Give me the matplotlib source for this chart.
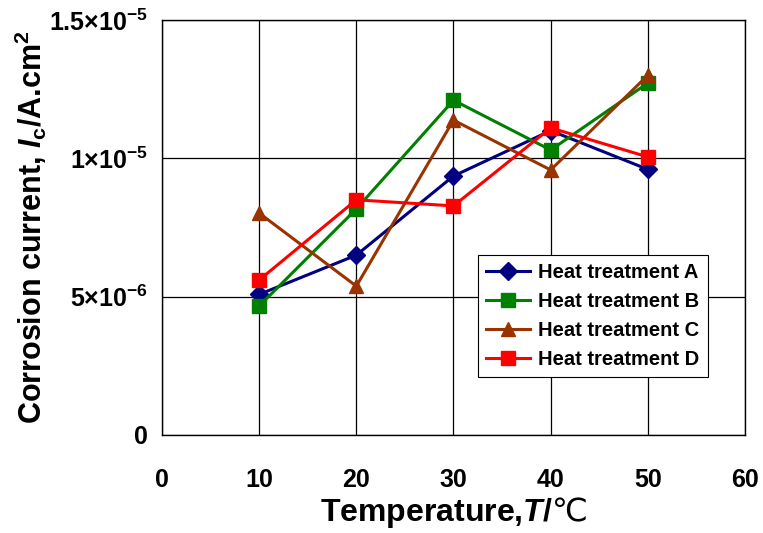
import matplotlib
matplotlib.use("Agg")
import matplotlib.pyplot as plt
from matplotlib.ticker import FixedLocator, FixedFormatter

plt.rcParams['font.family'] = ['Liberation Sans', 'DejaVu Sans']
plt.rcParams['font.weight'] = 'bold'
plt.rcParams['mathtext.fontset'] = 'custom'
plt.rcParams['mathtext.rm'] = 'Liberation Sans:bold'
plt.rcParams['mathtext.bf'] = 'Liberation Sans:bold'
plt.rcParams['mathtext.it'] = 'Liberation Sans:bold:italic'
plt.rcParams['mathtext.sf'] = 'DejaVu Sans:weight=normal'

temperature = [10, 20, 30, 40, 50]
heat_a = [5.08e-6, 6.5e-6, 9.36e-6, 11.0e-6, 9.6e-6]
heat_b = [4.66e-6, 8.17e-6, 12.1e-6, 10.3e-6, 12.72e-6]
heat_c = [8.02e-6, 5.38e-6, 11.38e-6, 9.58e-6, 13.0e-6]
heat_d = [5.6e-6, 8.5e-6, 8.28e-6, 11.1e-6, 10.05e-6]
series_labels = ["Heat treatment A", "Heat treatment B", "Heat treatment C", "Heat treatment D"]

x_ticks = [0, 10, 20, 30, 40, 50, 60]
y_ticks = [0, 5e-6, 1e-5, 1.5e-5]
y_tick_labels = ["0", r"$\mathrm{5{\times}10^{-6}}$", r"$\mathrm{1{\times}10^{-5}}$", r"$\mathrm{1.5{\times}10^{-5}}$"]

fig = plt.figure(figsize=(7.63, 5.33), dpi=100)
ax = fig.add_axes([0.2123, 0.1839, 0.7641, 0.7786])

styles = [
    dict(color='#000080', marker='D', markersize=9),
    dict(color='#008000', marker='s', markersize=10.5),
    dict(color='#993300', marker='^', markersize=10.5),
    dict(color='#FF0000', marker='s', markersize=10.5),
]
for data, lab, st in zip([heat_a, heat_b, heat_c, heat_d], series_labels, styles):
    ax.plot(temperature, data, label=lab, linewidth=2.2, zorder=3, **st)

ax.set_xlim(0, 60)
ax.set_ylim(0, 1.5e-5)
ax.xaxis.set_major_locator(FixedLocator(x_ticks))
ax.yaxis.set_major_locator(FixedLocator(y_ticks))
ax.yaxis.set_major_formatter(FixedFormatter(y_tick_labels))
ax.grid(True, color='black', linewidth=0.9)
ax.set_axisbelow(True)
for s in ax.spines.values():
    s.set_color('black')
    s.set_linewidth(1.0)
ax.tick_params(axis='both', length=0, labelsize=18)
ax.tick_params(axis='x', pad=24)
ax.tick_params(axis='y', pad=10)
for t in ax.get_xticklabels() + ax.get_yticklabels():
    t.set_fontweight('bold')

ax.set_xlabel(r"Temperature,$\mathit{T/}$$\mathsf{℃}$", fontsize=23, fontweight='bold', labelpad=2)
ax.set_ylabel(r"Corrosion current, $\mathit{I}_{\mathrm{c}}$/A.cm$^{2}$", fontsize=22, fontweight='bold', labelpad=0)

leg = ax.legend(loc='upper left', bbox_to_anchor=(0.542, 0.434), borderaxespad=0, fontsize=14.5,
                frameon=True, fancybox=False, edgecolor='black', framealpha=1,
                handlelength=2.2, borderpad=0.4, labelspacing=0.5, handletextpad=0.4)
leg.get_frame().set_linewidth(0.8)
for t in leg.get_texts():
    t.set_fontweight('bold')

fig.savefig("out.png", dpi=100)
